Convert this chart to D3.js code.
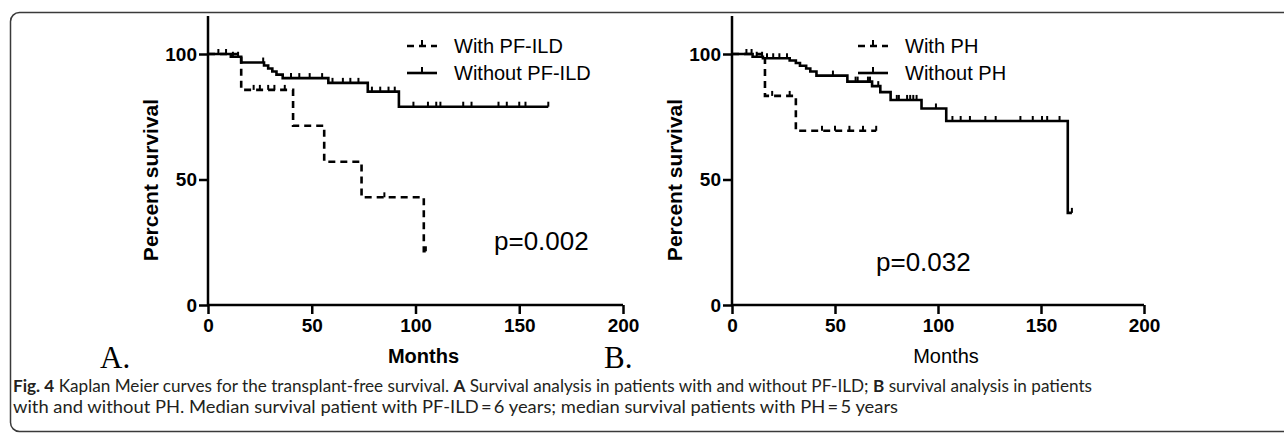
<!DOCTYPE html>
<html>
<head>
<meta charset="utf-8">
<script src="https://cdn.jsdelivr.net/npm/d3@7"></script>
<style>
  body { margin: 0; background: #fff; }
  svg { display: block; }
  .axis path, .axis line { stroke: #000; stroke-width: 2.5px; }
  .axis text { font-family: "Liberation Sans", Arial, sans-serif; font-weight: bold; font-size: 19px; fill: #000; }
</style>
</head>
<body>
<div id="chart"></div>
<script>
// Page size
var svgWidth = 1284
var svgHeight = 434

// Panel A: with / without PF-ILD
var ildTimes = [0, 16, 41, 56, 74, 104, 105]
var ildSurv = [100, 85.7, 71.4, 57.1, 42.9, 21.4, 21.4]
var ildCens = [22, 25, 29, 32, 37, 85, 105]

var noIldTimes = [0, 11, 16, 27, 29, 31, 33, 36, 58, 77, 92, 164]
var noIldSurv = [100, 98.9, 96.6, 95.4, 94.2, 93, 91.8, 90.4, 88.5, 85, 79, 79]
var noIldCens = [5, 8.7, 12, 14.5, 26.6, 40, 44, 49, 55, 60, 65, 68.6, 72.5, 79, 83, 87, 90,
    99, 106, 110, 112, 123, 127, 140, 144, 150, 153, 164]

// Panel B: with / without PH
var phTimes = [0, 16, 31, 70]
var phSurv = [100, 83.3, 69.4, 69.4]
var phCens = [19.5, 28, 43.7, 50, 57, 63.6, 70]

var noPhTimes = [0, 10, 15, 28, 31, 33, 36, 38, 41, 56, 68, 72, 77, 92, 104, 163, 165]
var noPhSurv = [100, 98.9, 98.3, 97.4, 96.4, 95.3, 94.2, 93, 91.4, 89, 87.2, 84.8, 81.7, 78.3, 73.3, 36.7, 36.7]
var noPhCens = [7, 9.5, 12, 14.6, 17, 20, 23, 26.7, 49, 60, 61, 66, 67, 71, 80, 81, 85, 86.5, 88, 89.6,
    99, 107, 111, 115.5, 123, 128, 140, 146, 150.5, 153, 159, 165]

var xTicks = [0, 50, 100, 150, 200]
var yTicks = [0, 50, 100]

var svg = d3.select("#chart")
    .append("svg")
    .attr("width", svgWidth)
    .attr("height", svgHeight);

// figure frame
svg.append("rect")
    .attr("x", 10.5)
    .attr("y", 12.5)
    .attr("width", 1300)
    .attr("height", 419)
    .attr("rx", 9)
    .attr("fill", "none")
    .attr("stroke", "#3a3a3a")
    .attr("stroke-width", 1.5);

function series(times, surv) {
    return times.map((t, i) => ({ t: t, s: surv[i] }));
}

// survival value at time t (step function)
function survAt(times, surv, t) {
    var s = surv[0];
    times.forEach((tt, i) => { if (tt <= t) s = surv[i]; });
    return s;
}

function drawPanel(p) {
    var x = d3.scaleLinear().domain([0, 200]).range([p.left, p.left + p.w]);
    var y = d3.scaleLinear().domain([0, 100]).range([305, 54]);

    var g = svg.append("g");

    // axes
    var xAxis = g.append("g")
        .attr("class", "axis")
        .attr("transform", "translate(0,305)")
        .call(d3.axisBottom(x).tickValues(xTicks).tickSize(9).tickSizeOuter(0).tickPadding(5));
    var yAxis = g.append("g")
        .attr("class", "axis")
        .attr("transform", `translate(${p.left},0)`)
        .call(d3.axisLeft(y).tickValues(yTicks).tickSize(9).tickSizeOuter(0).tickPadding(2));
    // y axis line runs up to the frame
    yAxis.select(".domain").attr("d", `M0,${y(0) + 1}V${16}`);
    xAxis.select(".domain").attr("d", `M${p.left - 1},0H${x(200)}`);

    var line = d3.line()
        .x(d => x(d.t))
        .y(d => y(d.s))
        .curve(d3.curveStepAfter);

    p.curves.forEach(function (c) {
        g.append("path")
            .datum(series(c.times, c.surv))
            .attr("d", line)
            .attr("fill", "none")
            .attr("stroke", "#000")
            .attr("stroke-width", 2.6)
            .attr("stroke-dasharray", c.dashed ? "7,5" : null);

        // censor marks
        g.selectAll(null)
            .data(c.cens)
            .enter()
            .append("line")
            .attr("x1", d => x(d))
            .attr("x2", d => x(d))
            .attr("y1", d => y(survAt(c.times, c.surv, d)))
            .attr("y2", d => y(survAt(c.times, c.surv, d)) - 5)
            .attr("stroke", "#000")
            .attr("stroke-width", 2);
    });

    // legend
    p.curves.forEach(function (c, i) {
        var ly = 46 + i * 27;
        g.append("line")
            .attr("x1", p.legX).attr("x2", p.legX + 30)
            .attr("y1", ly).attr("y2", ly)
            .attr("stroke", "#000")
            .attr("stroke-width", 2.6)
            .attr("stroke-dasharray", c.dashed ? "7,5" : null);
        g.append("line")
            .attr("x1", p.legX + 15).attr("x2", p.legX + 15)
            .attr("y1", ly).attr("y2", ly - 6)
            .attr("stroke", "#000")
            .attr("stroke-width", 2);
        g.append("text")
            .attr("x", p.legX + 47)
            .attr("y", ly + 7)
            .attr("font-family", "Liberation Sans, Arial, sans-serif")
            .attr("font-size", 20)
            .text(c.name);
    });

    // y label
    g.append("text")
        .attr("transform", `translate(${p.left - 50},${180}) rotate(-90)`)
        .attr("text-anchor", "middle")
        .attr("font-family", "Liberation Sans, Arial, sans-serif")
        .attr("font-weight", "bold")
        .attr("font-size", 21)
        .text("Percent survival");

    // x label
    g.append("text")
        .attr("x", x(100) + 8)
        .attr("y", 363)
        .attr("text-anchor", "middle")
        .attr("font-family", "Liberation Sans, Arial, sans-serif")
        .attr("font-weight", p.boldMonths ? "bold" : "normal")
        .attr("font-size", 20)
        .text("Months");

    // panel letter
    g.append("text")
        .attr("x", p.letterX)
        .attr("y", 368)
        .attr("font-family", "Liberation Serif, Times New Roman, serif")
        .attr("font-size", 31)
        .text(p.letter);

    // p value
    g.append("text")
        .attr("x", p.pX)
        .attr("y", p.pY)
        .attr("font-family", "Liberation Sans, Arial, sans-serif")
        .attr("font-size", 26)
        .text(p.pText);
}

drawPanel({
    left: 208, w: 415, legX: 407, pX: 494, pY: 250, pText: "p=0.002",
    letter: "A.", letterX: 100, boldMonths: true,
    curves: [
        { name: "With PF-ILD", times: ildTimes, surv: ildSurv, cens: ildCens, dashed: true },
        { name: "Without PF-ILD", times: noIldTimes, surv: noIldSurv, cens: noIldCens, dashed: false }
    ]
});

drawPanel({
    left: 732, w: 412, legX: 858, pX: 876, pY: 271, pText: "p=0.032",
    letter: "B.", letterX: 604, boldMonths: false,
    curves: [
        { name: "With PH", times: phTimes, surv: phSurv, cens: phCens, dashed: true },
        { name: "Without PH", times: noPhTimes, surv: noPhSurv, cens: noPhCens, dashed: false }
    ]
});

// caption
var cap = svg.append("g")
    .attr("font-family", "Lato, Noto Sans, sans-serif")
    .attr("font-size", 17)
    .attr("fill", "#231f20");

var line1 = cap.append("text")
    .attr("x", 13)
    .attr("y", 392)
    .attr("textLength", 1079)
    .attr("lengthAdjust", "spacingAndGlyphs");
line1.append("tspan").attr("font-weight", "bold").text("Fig. 4");
line1.append("tspan").text("  Kaplan Meier curves for the transplant-free survival. ");
line1.append("tspan").attr("font-weight", "bold").text("A");
line1.append("tspan").text(" Survival analysis in patients with and without PF-ILD; ");
line1.append("tspan").attr("font-weight", "bold").text("B");
line1.append("tspan").text(" survival analysis in patients");

cap.append("text")
    .attr("x", 13)
    .attr("y", 413)
    .attr("textLength", 885)
    .attr("lengthAdjust", "spacingAndGlyphs")
    .text("with and without PH. Median survival patient with PF-ILD\u2009=\u20096 years; median survival patients with PH\u2009=\u20095 years");
</script>
</body>
</html>
